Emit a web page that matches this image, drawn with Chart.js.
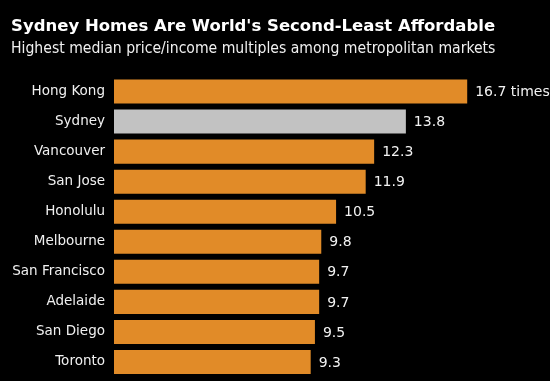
<!DOCTYPE html>
<html><head><meta charset="utf-8">
<script src="https://cdn.jsdelivr.net/npm/chart.js@4"></script>
<style>html,body{margin:0;padding:0;background:#000;}#wrap{width:550px;height:381px;position:relative;}</style>
</head><body><div id="wrap"><canvas id="c" width="550" height="381"></canvas></div>
<script>
const cities = ["Hong Kong","Sydney","Vancouver","San Jose","Honolulu","Melbourne","San Francisco","Adelaide","San Diego","Toronto"];
const multiples = [16.7,13.8,12.3,11.9,10.5,9.8,9.7,9.7,9.5,9.3];
const highlight = "Sydney";
const ORANGE = "#e18b28", GRAY = "#c2c2c2";

const valueLabels = {
  id: "valueLabels",
  afterDatasetsDraw(chart) {
    const ctx = chart.ctx;
    const meta = chart.getDatasetMeta(0);
    ctx.save();
    ctx.fillStyle = "#f2f2f2";
    ctx.font = "14px 'DejaVu Sans'";
    ctx.textBaseline = "middle";
    ctx.textAlign = "left";
    meta.data.forEach((bar, i) => {
      let t = multiples[i].toFixed(1);
      if (i === 0) t += " times";
      ctx.fillText(t, bar.x + 8, bar.y + 1);
    });
    ctx.restore();
  }
};

new Chart(document.getElementById("c"), {
  type: "bar",
  data: {
    labels: cities,
    datasets: [{
      data: multiples,
      backgroundColor: cities.map(c => c === highlight ? GRAY : ORANGE),
      borderWidth: 0,
      categoryPercentage: 0.8,
      barPercentage: 1.0
    }]
  },
  options: {
    indexAxis: "y",
    responsive: false,
    animation: false,
    layout: { padding: { left: 11, right: 13, top: 0, bottom: 4 } },
    plugins: {
      legend: { display: false },
      tooltip: { enabled: false },
      title: {
        display: true,
        text: "Sydney Homes Are World's Second-Least Affordable",
        align: "start",
        color: "#ffffff",
        font: { family: "'DejaVu Sans'", size: 16.5, weight: "bold" },
        padding: { top: 17, bottom: 3 }
      },
      subtitle: {
        display: true,
        text: "Highest median price/income multiples among metropolitan markets",
        align: "start",
        color: "#f0f0f0",
        font: { family: "'DejaVu Sans Condensed', 'DejaVu Sans'", size: 15.6 },
        padding: { top: 0, bottom: 18 }
      }
    },
    scales: {
      x: { display: false, min: 0, max: 20 },
      y: {
        grid: { display: false, drawTicks: false },
        border: { display: false },
        ticks: {
          color: "#f0f0f0",
          font: { family: "'DejaVu Sans'", size: 13.5 },
          padding: 9
        },
        afterFit(scale) { scale.width = 103; scale.paddingTop = 0; scale.paddingBottom = 0; }
      }
    }
  },
  plugins: [valueLabels]
});
</script></body></html>
